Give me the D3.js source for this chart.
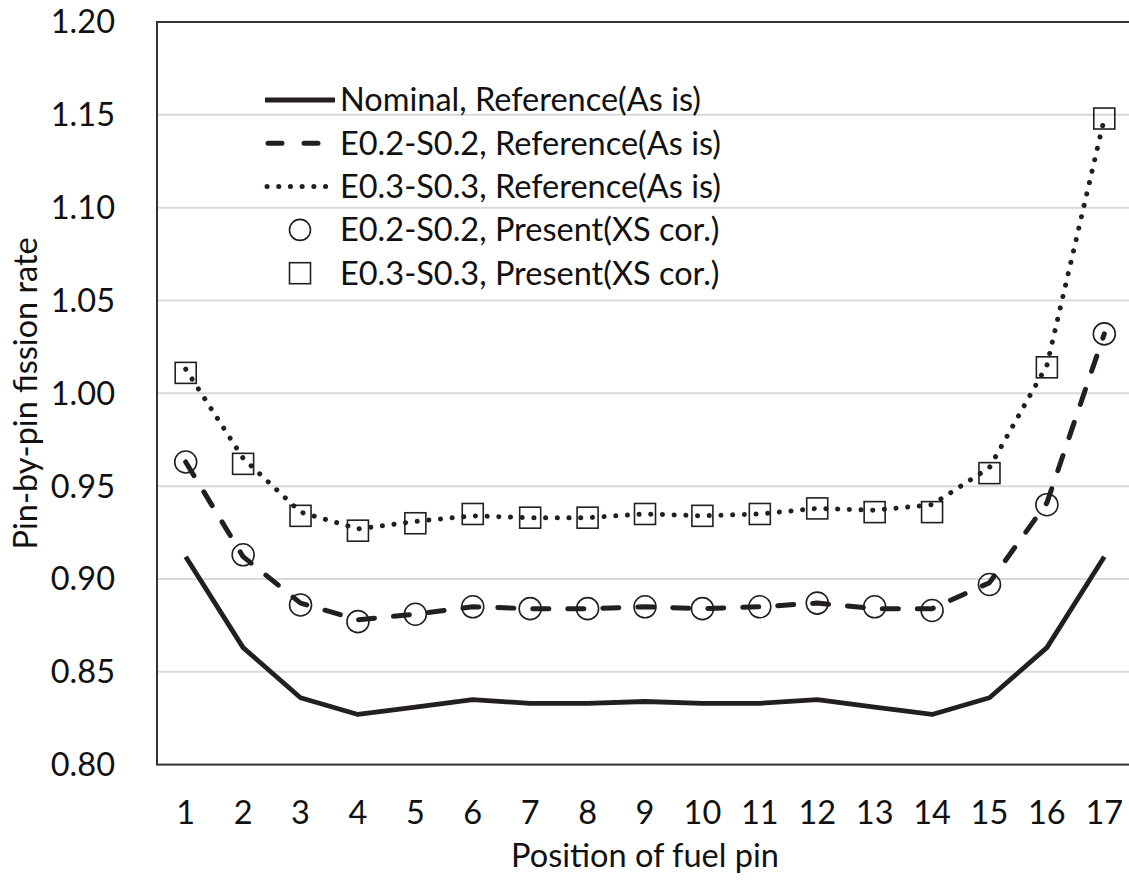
<!DOCTYPE html>
<html>
<head>
<meta charset="utf-8">
<script src="https://cdn.jsdelivr.net/npm/d3@7"></script>
<style>
  body { margin: 0; background: #fff; }
  svg { display: block; font-family: Lato, "Open Sans", sans-serif; }
</style>
</head>
<body>
<svg id="chart" width="1129" height="881"></svg>
<script>
// tick labels / categories
const pins = ["1","2","3","4","5","6","7","8","9","10","11","12","13","14","15","16","17"]
const yTicks = [0.80, 0.85, 0.90, 0.95, 1.00, 1.05, 1.10, 1.15, 1.20]

// series
const nominalRef = [0.912, 0.863, 0.836, 0.827, 0.831, 0.835, 0.833, 0.833, 0.834, 0.833, 0.833, 0.835, 0.831, 0.827, 0.836, 0.863, 0.912]
const e02Ref     = [0.963, 0.912, 0.887, 0.878, 0.881, 0.885, 0.884, 0.884, 0.885, 0.884, 0.885, 0.887, 0.884, 0.884, 0.898, 0.941, 1.032]
const e03Ref     = [1.013, 0.965, 0.936, 0.927, 0.931, 0.934, 0.933, 0.933, 0.935, 0.934, 0.935, 0.938, 0.937, 0.940, 0.960, 1.015, 1.148]
const e02Present = [0.963, 0.913, 0.886, 0.877, 0.881, 0.885, 0.884, 0.884, 0.885, 0.884, 0.885, 0.887, 0.885, 0.883, 0.897, 0.940, 1.032]
const e03Present = [1.011, 0.962, 0.934, 0.926, 0.930, 0.935, 0.933, 0.933, 0.935, 0.934, 0.935, 0.938, 0.936, 0.936, 0.957, 1.014, 1.148]

const legendLabels = [
  "Nominal, Reference(As is)",
  "E0.2-S0.2, Reference(As is)",
  "E0.3-S0.3, Reference(As is)",
  "E0.2-S0.2, Present(XS cor.)",
  "E0.3-S0.3, Present(XS cor.)"
]

const ink = "#231f20"
const fs = 32.5
const svg = d3.select("#chart")
const plotL = 157, plotR = 1133, plotT = 22, plotB = 764.6

const x = d3.scalePoint().domain(pins).range([plotL, plotR]).padding(0.5)
const y = d3.scaleLinear().domain([0.80, 1.20]).range([plotB, plotT])

// gridlines
svg.append("g")
  .selectAll("line")
  .data(yTicks.slice(1, -1))
  .enter()
  .append("line")
  .attr("x1", plotL).attr("x2", plotR)
  .attr("y1", d => y(d)).attr("y2", d => y(d))
  .attr("stroke", "#d9d9d9")
  .attr("stroke-width", 2)

// plot border
svg.append("rect")
  .attr("x", plotL).attr("y", plotT)
  .attr("width", plotR - plotL).attr("height", plotB - plotT)
  .attr("fill", "none")
  .attr("stroke", "#333")
  .attr("stroke-width", 2)

// y tick labels
svg.append("g")
  .selectAll("text")
  .data(yTicks)
  .enter()
  .append("text")
  .attr("x", 115)
  .attr("y", d => y(d))
  .attr("dy", "0.35em")
  .attr("text-anchor", "end")
  .attr("font-size", fs)
  .attr("fill", "#111")
  .text(d => d.toFixed(2))

// x tick labels
svg.append("g")
  .selectAll("text")
  .data(pins)
  .enter()
  .append("text")
  .attr("x", d => x(d))
  .attr("y", 824)
  .attr("text-anchor", "middle")
  .attr("font-size", fs)
  .attr("fill", "#111")
  .text(d => d)

// axis titles
svg.append("text")
  .attr("x", (plotL + plotR) / 2)
  .attr("y", 867)
  .attr("text-anchor", "middle")
  .attr("font-size", fs)
  .attr("fill", "#111")
  .text("Position of fuel pin")

svg.append("text")
  .attr("transform", `translate(37,${(plotT + plotB) / 2}) rotate(-90)`)
  .attr("text-anchor", "middle")
  .attr("font-size", fs)
  .attr("fill", "#111")
  .text("Pin-by-pin fission rate")

const line = d3.line()
  .x((d, i) => x(pins[i]))
  .y(d => y(d))

const lineStyles = [
  { data: nominalRef, dash: null, cap: "butt", w: 4.8 },
  { data: e02Ref, dash: "16,19", cap: "round", w: 5 },
  { data: e03Ref, dash: "0.1,11.6", cap: "round", w: 5 }
]

lineStyles.forEach(s => {
  svg.append("path")
    .datum(s.data)
    .attr("d", line)
    .attr("fill", "none")
    .attr("stroke", ink)
    .attr("stroke-width", s.w)
    .attr("stroke-linecap", s.cap)
    .attr("stroke-linejoin", "round")
    .attr("stroke-dasharray", s.dash)
})

// markers
svg.append("g")
  .selectAll("circle")
  .data(e02Present)
  .enter()
  .append("circle")
  .attr("cx", (d, i) => x(pins[i]))
  .attr("cy", d => y(d))
  .attr("r", 11)
  .attr("fill", "none")
  .attr("stroke", ink)
  .attr("stroke-width", 1.6)

svg.append("g")
  .selectAll("rect")
  .data(e03Present)
  .enter()
  .append("rect")
  .attr("x", (d, i) => x(pins[i]) - 10.5)
  .attr("y", d => y(d) - 10.5)
  .attr("width", 21)
  .attr("height", 21)
  .attr("fill", "none")
  .attr("stroke", ink)
  .attr("stroke-width", 1.6)

// legend
const legend = svg.append("g")
const rowY = i => 100 + i * 43.3

legendLabels.forEach((label, i) => {
  const cy = rowY(i)
  if (i === 0) {
    legend.append("line").attr("x1", 265).attr("x2", 335).attr("y1", cy).attr("y2", cy)
      .attr("stroke", ink).attr("stroke-width", 4.8)
  } else if (i === 1) {
    legend.append("line").attr("x1", 268).attr("x2", 334).attr("y1", cy).attr("y2", cy)
      .attr("stroke", ink).attr("stroke-width", 5).attr("stroke-linecap", "round")
      .attr("stroke-dasharray", "14,22")
  } else if (i === 2) {
    legend.append("line").attr("x1", 267).attr("x2", 334).attr("y1", cy).attr("y2", cy)
      .attr("stroke", ink).attr("stroke-width", 5).attr("stroke-linecap", "round")
      .attr("stroke-dasharray", "0.1,11.6")
  } else if (i === 3) {
    legend.append("circle").attr("cx", 300).attr("cy", cy).attr("r", 10.5)
      .attr("fill", "none").attr("stroke", ink).attr("stroke-width", 1.6)
  } else {
    legend.append("rect").attr("x", 289.5).attr("y", cy - 10.5).attr("width", 21).attr("height", 21)
      .attr("fill", "none").attr("stroke", ink).attr("stroke-width", 1.6)
  }
  legend.append("text")
    .attr("x", 340)
    .attr("y", cy)
    .attr("dy", "0.35em")
    .attr("font-size", fs)
    .attr("fill", "#111")
    .text(label)
})
</script>
</body>
</html>
